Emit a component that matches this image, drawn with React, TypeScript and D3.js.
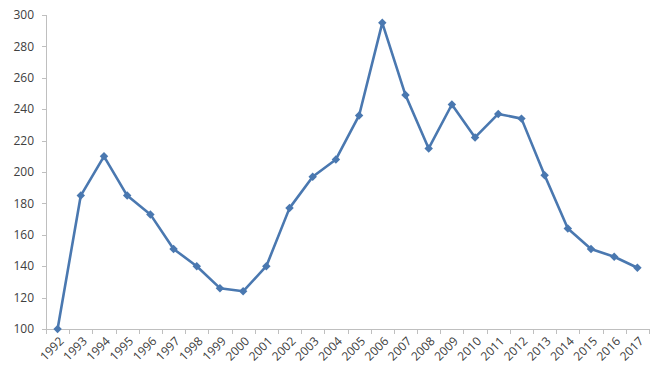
import React from "react";
import * as d3 from "d3";

const years = ["1992","1993","1994","1995","1996","1997","1998","1999","2000","2001","2002","2003","2004","2005","2006","2007","2008","2009","2010","2011","2012","2013","2014","2015","2016","2017"];
const values = [100,185,210,185,173,151,140,126,124,140,177,197,208,236,295,249,215,243,222,237,234,198,164,151,146,139];
const yTicks = [100,120,140,160,180,200,220,240,260,280,300];

const W = 664, H = 377;
const left = 46, right = 649, top = 15, bottom = 329;

export default function App() {
  const x = d3.scaleBand<string>().domain(years).range([left, right]);
  const y = d3.scaleLinear().domain([100, 300]).range([bottom, top]);
  const cx = (d: string) => (x(d) as number) + x.bandwidth() / 2;
  const line = d3.line<number>().x((_, i) => cx(years[i])).y(v => y(v));
  const marker = d3.symbol().type(d3.symbolSquare).size(36)() as string;
  const font = "Open Sans, Liberation Sans, sans-serif";
  const bounds = years.map(d => x(d) as number).concat([right]);
  return (
    <svg width={W} height={H} style={{ position: "absolute", left: 0, top: 0, background: "#fff" }}>
      <g stroke="#bfbfbf" strokeWidth={1}>
        <line x1={left + 0.5} x2={left + 0.5} y1={top} y2={bottom} />
        <line x1={left} x2={right} y1={bottom + 0.5} y2={bottom + 0.5} />
        {yTicks.map(t => (
          <line key={t} x1={left - 4} x2={left} y1={Math.round(y(t)) + 0.5} y2={Math.round(y(t)) + 0.5} />
        ))}
        {bounds.map((b, i) => (
          <line key={i} x1={Math.round(b) + 0.5} x2={Math.round(b) + 0.5} y1={bottom} y2={bottom + 5} />
        ))}
      </g>
      <g fontFamily={font} fontSize={12} fill="#404040">
        {yTicks.map(t => (
          <text key={t} x={34} y={y(t)} dy="0.35em" textAnchor="end">{t}</text>
        ))}
        {years.map(d => (
          <text key={d} transform={`translate(${cx(d) + 4},${bottom + 10}) rotate(-45)`} textAnchor="end" dy="0.35em">{d}</text>
        ))}
      </g>
      <path d={line(values) as string} fill="none" stroke="#4a78b0" strokeWidth={2.6} strokeLinejoin="round" />
      <g fill="#4a78b0">
        {values.map((v, i) => (
          <path key={i} d={marker} transform={`translate(${cx(years[i])},${y(v)}) rotate(45)`} />
        ))}
      </g>
    </svg>
  );
}
